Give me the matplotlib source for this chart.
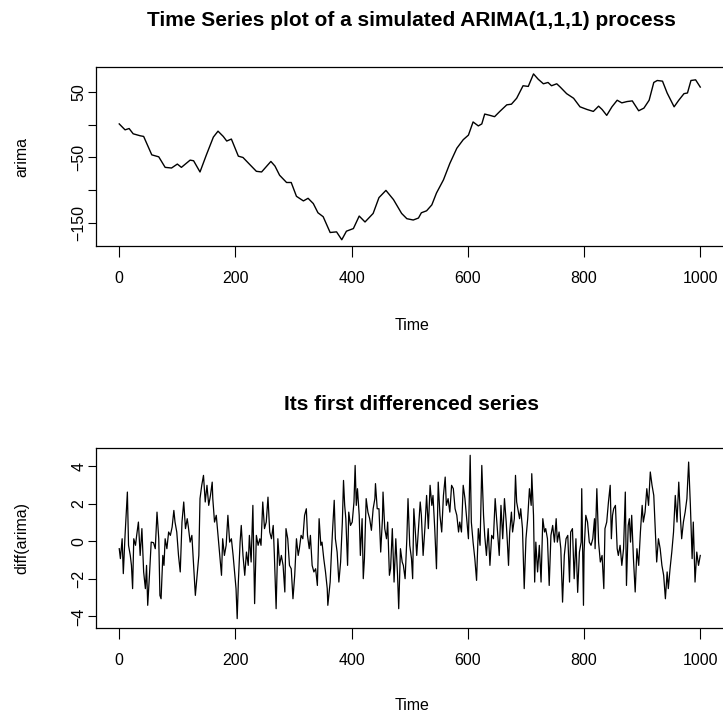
import matplotlib
matplotlib.use("Agg")
import matplotlib.pyplot as plt
import numpy as np

plt.rcParams['font.family'] = ['Liberation Sans', 'DejaVu Sans']

# ---- top series: simulated ARIMA(1,1,1) ----
arima_time = [0, 10, 17, 24, 36, 42, 50, 56, 68, 79, 90, 100, 107, 122, 128, 139, 150, 162, 170,
              179, 185, 193, 205, 213, 225, 236, 245, 254, 261, 268, 276, 288, 296, 305, 317, 325,
              334, 342, 351, 363, 374, 383, 391, 403, 413, 423, 437, 447, 459, 472, 486, 495, 506,
              515, 520, 529, 538, 546, 558, 569, 581, 592, 601, 609, 618, 624, 629, 638, 646, 655,
              667, 675, 684, 695, 704, 713, 721, 730, 738, 744, 753, 759, 770, 782, 793, 805, 816,
              825, 831, 839, 848, 857, 865, 874, 883, 894, 903, 912, 920, 926, 935, 943, 955, 963,
              972, 978, 984, 992, 1000]
arima_vals = [1, -8, -6, -14, -17, -18, -34, -46, -49, -65, -66, -60, -65, -54, -55, -72, -46, -19, -10,
              -18, -25, -22, -48, -50, -61, -71, -72, -63, -56, -63, -77, -88, -88, -109, -116, -112,
              -120, -134, -140, -164, -163, -175, -162, -158, -139, -148, -135, -111, -100, -114, -135, -143, -145,
              -142, -134, -131, -122, -104, -84, -59, -36, -23, -16, 4, -2, 1, 16, 14, 12, 20,
              30, 31, 40, 59, 58, 77, 69, 62, 64, 59, 62, 57, 47, 40, 27, 23, 20,
              28, 23, 14, 27, 37, 33, 35, 36, 21, 25, 37, 64, 67, 66, 48, 27, 37,
              47, 48, 67, 68, 57]

# ---- bottom series: first differences ----
diff_time = [0, 2, 5, 7, 10, 14, 16, 19, 21, 23, 25, 28, 30, 33, 36, 39, 42, 45, 47, 49, 52, 55, 59, 62,
             65, 68, 70, 72, 75, 77, 79, 82, 85, 88, 91, 94, 96, 99, 102, 105, 108, 111, 114, 117, 119,
             122, 125, 128, 131, 134, 137, 139, 142, 145, 148, 151, 154, 157, 160,
             161, 164, 167, 170, 173, 176, 178, 181, 184, 187, 190, 193, 196, 199, 201, 203, 205, 208,
             210, 213, 216, 219, 222, 224, 227, 230, 233, 236, 239, 242, 244, 247, 250, 253, 256, 259,
             262, 265, 267, 270, 273, 276, 279, 282, 285, 287, 290, 293, 296, 299, 302, 305, 308, 310,
             313, 316, 319, 322,
             324, 327, 329, 332, 335, 338, 341, 344, 347, 349, 352, 355, 358, 359, 363, 365, 367, 370,
             372, 375, 378, 381, 384, 386, 388, 390, 393, 395, 398, 401, 404, 406, 408, 410, 413, 415,
             418, 420, 422, 425, 428, 431, 434, 437, 440, 441, 444, 447, 450, 453, 454, 457, 460, 462,
             465, 467, 470, 473, 476, 479, 481, 484, 487,
             489, 492, 495, 497, 500, 503, 505, 507, 510, 512, 515, 518, 520, 523, 526, 529, 532, 535,
             538, 540, 543, 546, 549, 552, 555, 558, 561, 563, 566, 569, 572, 575, 578, 581, 584, 586,
             589, 592, 595, 598, 601, 604, 606, 609, 612, 615, 618, 621, 624, 627, 629, 632, 635, 638,
             641, 644, 647, 649, 652,
             654, 657, 660, 663, 666, 668, 670, 672, 675, 677, 680, 682, 684, 686, 689, 691, 694, 697,
             700, 703, 706, 709, 710, 713, 715, 717, 720, 723, 726, 729, 732, 734, 737, 740, 743, 746,
             749, 752, 754, 757, 760, 763, 766, 769, 772, 775, 777, 780, 783, 786, 789, 792, 795, 796,
             799, 800, 803, 806, 809, 812, 815, 818,
             819, 822, 825, 828, 831, 834, 836, 839, 842, 845, 847, 849, 851, 854, 857, 859, 862, 865,
             868, 871, 873, 876, 878, 880, 882, 885, 888, 891, 894, 897, 900, 902, 905, 908, 911, 914,
             917, 920, 923, 925, 928, 931, 934, 937, 940, 943, 945, 948, 951, 954, 957, 960, 963, 966,
             968, 971, 974, 977, 980, 983, 986, 988, 991, 994, 997, 1000]
diff_vals = [-0.39, -0.92, 0.14, -1.72, 0.32, 2.63, -0.21, -0.75, -1.28, -2.52, 0.14, -0.21, 0.32, 1.03,
             -0.75, 0.68, -1.63, -2.52, -1.28, -3.41, -1.81, -0.04, -0.07, -0.39, 1.56, 0.14, -2.88,
             -3.06, -0.75, -1.28, 0.14, -0.39, 0.5, 0.32, 0.76, 1.65, 1.03, 0.5, -0.75, -1.63, 1.03,
             2.1, 0.68, 1.21, 0.76, -0.04, 0.32, -1.28, -2.88, -1.81, -0.75, 2.28, 2.99, 3.52, 2.1,
             2.99, 1.92, 2.45, 3.16,
             2.28, 1.03, 1.39, 0.32, -0.75, -1.81, 0.14, -0.75, -0.21, 1.39, -0.04, 0.14, -0.75, -1.81,
             -2.52, -4.12, -2.17, -0.04, 0.85, -0.75, -1.81, -0.57, -1.28, 0.32, -1.1, 1.92, -3.32,
             0.32, -0.21, 0.14, -0.21, 2.1, 0.68, 1.03, 2.36, 0.5, 0.14, 0.85, -0.75, -3.59, 0.14,
             -1.28, -0.75, -1.28, -2.7, 0.68, 0.14, -1.28, -1.46, -3.06, -1.81, 0.14, -0.75, -0.39,
             0.32, 0.14, 1.39, 1.74,
             0.32, -0.39, 0.32, -1.28, -1.63, -1.46, -2.35, 1.21, -0.21, -0.04, -0.92, -1.63, -2.52,
             -3.41, -2.17, -0.75, 0.5, 2.19, 0.14, -0.57, -2.17, -1.1, 1.03, 3.25, 1.92, 1.21, -1.28,
             1.56, 0.85, 1.03, 2.1, 4.05, 1.92, 2.81, 1.39, -0.75, 1.21, -1.99, -0.92, 2.28, 1.56,
             1.21, 0.59, 1.74, 2.28, 3.08, 1.74, 1.74, -0.57, 1.21, 2.63, 0.68, 0.14, 1.03, -1.81,
             -1.46, 0.68, -2.17, 0.14, -1.81, -3.59, -0.39, -1.1,
             -1.28, -1.99, 0.14, 2.28, -0.21, -0.92, -1.99, 1.74, 0.32, -0.75, 0.68, 2.1, 1.39, -0.75,
             0.68, 2.45, 0.68, 2.99, 1.92, 2.45, 0.68, -1.46, 3.16, 1.39, 0.5, 2.45, 3.43, 1.92, 2.28,
             1.56, 2.99, 2.81, 1.74, 1.39, 0.5, 1.03, 0.5, 2.99, 2.28, 1.21, 0.14, 4.59, 1.03, -0.04,
             -0.92, -2.08, 0.68, -0.21, 4.05, 1.39, 0.32, -0.75, 0.68, -1.28, 0.32, 0.14, 2.28, 1.39,
             0.14,
             -0.75, 1.92, 0.14, 2.28, 1.03, -0.04, -1.28, 0.5, 1.56, 0.5, 1.21, 3.52, 2.1, 1.74, 1.21,
             1.74, 0.68, -2.52, 0.14, 1.21, 2.81, 1.92, 3.61, 1.39, -2.17, -0.04, -1.63, -0.21, -2.17,
             1.21, 0.5, 0.68, 0.14, -2.35, 0.32, 0.85, -0.04, 1.21, -0.04, 0.5, -0.39, -3.24, -0.75,
             0.14, 0.32, -2.17, 0.5, 0.68, -1.99, 0.14, -2.72, -0.57, -0.04, 2.81, -3.41, -0.57, 1.39,
             1.03, -0.04, -0.21, 0.14, 1.21,
             -0.39, 2.81, -0.04, -1.1, -0.75, -2.52, 0.68, 1.03, 2.1, 2.99, 0.14, 1.39, 1.74, 1.92,
             -0.39, -0.75, -0.21, -1.28, -0.39, 2.63, -2.35, 0.85, 1.21, -0.04, 1.39, -0.92, -2.7,
             -0.39, -1.28, 0.5, 1.92, 1.03, 1.56, 2.81, 1.92, 3.7, 2.99, 2.45, 0.32, -1.1, 0.14, -0.39,
             -1.28, -1.81, -3.06, -1.63, -2.52, -1.46, -0.57, 0.5, 2.45, 1.03, 3.16, 1.21, 0.14, 1.03,
             1.56, 2.28, 4.23, 1.92, -0.92, 1.03, -2.17, -0.57, -1.28, -0.75]

x_ticks = [0, 200, 400, 600, 800, 1000]
top_yticks = [-150, -100, -50, 0, 50]
top_ylabels = ['\u2212150', '', '\u221250', '', '50']
bot_yticks = [-4, -2, 0, 2, 4]
bot_ylabels = ['\u22124', '\u22122', '0', '2', '4']

W, H = 723, 715
fig = plt.figure(figsize=(W / 100, H / 100), dpi=100)


def ax_rect(left, top, right, bottom):
    return [left / W, 1 - bottom / H, (right - left) / W, (bottom - top) / H]


ax1 = fig.add_axes(ax_rect(96, 67, 723.5, 246))
ax2 = fig.add_axes(ax_rect(96, 448, 723.5, 628))

ax1.plot(arima_time, arima_vals, color='black', lw=1.0)
ax2.plot(diff_time, diff_vals, color='black', lw=0.9)

ax1.set_xlim(-40, 1040)
ax1.set_ylim(-184.5, 87.5)
ax2.set_xlim(-40, 1040)
ax2.set_ylim(-4.62, 4.98)

for ax, yt, yl in [(ax1, top_yticks, top_ylabels), (ax2, bot_yticks, bot_ylabels)]:
    ax.set_xticks(x_ticks)
    ax.set_xticklabels([str(v) for v in x_ticks])
    ax.set_yticks(yt)
    ax.set_yticklabels(yl, rotation=90, va='center')
    ax.tick_params(axis='both', width=0.8, labelsize=11.5, color='black')
    ax.tick_params(axis='x', length=8, pad=10)
    ax.tick_params(axis='y', length=6, pad=1)
    for s in ax.spines.values():
        s.set_linewidth(0.9)

fig.text(411 / W, 1 - 20 / H, 'Time Series plot of a simulated ARIMA(1,1,1) process',
         ha='center', va='center', fontsize=15, fontweight='bold')
fig.text(411 / W, 1 - 405 / H, 'Its first differenced series',
         ha='center', va='center', fontsize=15, fontweight='bold')
fig.text(412 / W, 1 - 325 / H, 'Time', ha='center', va='center', fontsize=11.5)
fig.text(412 / W, 1 - 706 / H, 'Time', ha='center', va='center', fontsize=11.5)
fig.text(22 / W, 1 - 157 / H, 'arima', ha='center', va='center', rotation=90, fontsize=11.5)
fig.text(22 / W, 1 - 538 / H, 'diff(arima)', ha='center', va='center', rotation=90, fontsize=11.5)

fig.savefig('out.png', dpi=100)
